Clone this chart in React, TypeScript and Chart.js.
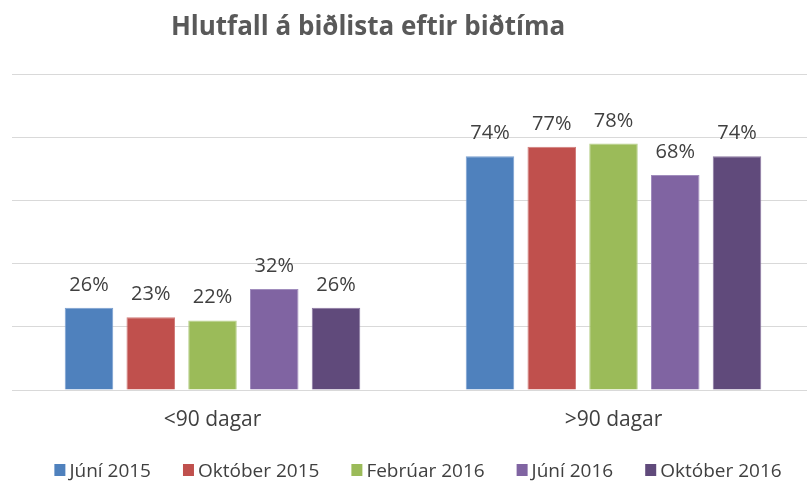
import React, { useEffect, useRef } from "react";
import { Chart, registerables } from "chart.js";

Chart.register(...registerables);

const TITLE = "Hlutfall á biðlista eftir biðtíma";
const categories = ["<90 dagar", ">90 dagar"];
const seriesNames = ["Júní 2015", "Október 2015", "Febrúar 2016", "Júní 2016", "Október 2016"];
const junI2015 = [26, 74];
const okt2015 = [23, 77];
const feb2016 = [22, 78];
const juni2016 = [32, 68];
const okt2016 = [26, 74];
const seriesValues = [junI2015, okt2015, feb2016, juni2016, okt2016];
const colors = ["#4F81BD", "#C0504D", "#9BBB59", "#8064A2", "#604A7B"];
const borderColors = ["#7a9fd0", "#d17d7b", "#b6d08a", "#a18dbd", "#8a77a0"];
const yTicks = [0, 20, 40, 60, 80, 100];

const FONT = "'Open Sans', 'Noto Sans', sans-serif";
const TEXT = "#404040";

const customPlugin = {
  id: "custom",
  afterDatasetsDraw(chart: any) {
    const ctx = chart.ctx;
    ctx.save();
    ctx.fillStyle = TEXT;
    ctx.font = `20px ${FONT}`;
    ctx.textAlign = "center";
    ctx.textBaseline = "alphabetic";
    chart.data.datasets.forEach((ds: any, i: number) => {
      const meta = chart.getDatasetMeta(i);
      meta.data.forEach((bar: any, j: number) => {
        ctx.fillText(ds.data[j] + "%", bar.x, bar.y - 17);
      });
    });
    // category labels
    const xs = chart.scales.x;
    ctx.font = `21px ${FONT}`;
    categories.forEach((c, j) => {
      ctx.fillText(c, xs.getPixelForValue(j), 426);
    });
    // title
    ctx.fillStyle = "#595959";
    ctx.font = `bold 26px ${FONT}`;
    ctx.fillText(TITLE, 368, 35);
    // legend
    ctx.font = `19px ${FONT}`;
    ctx.textAlign = "left";
    const box = 11;
    const gapBox = 4;
    const gapItem = 32;
    const widths = seriesNames.map((n) => ctx.measureText(n).width);
    const total = widths.reduce((a, w) => a + box + gapBox + w, 0) + gapItem * (seriesNames.length - 1);
    let x = 418 - total / 2;
    const y = 477;
    seriesNames.forEach((n, i) => {
      ctx.fillStyle = colors[i];
      ctx.fillRect(x, y - 13, box, box + 1);
      x += box + gapBox;
      ctx.fillStyle = TEXT;
      ctx.fillText(n, x, y);
      x += widths[i] + gapItem;
    });
    ctx.restore();
  },
};

export default function App() {
  const ref = useRef<HTMLCanvasElement>(null);
  useEffect(() => {
    const chart = new Chart(ref.current!, {
      type: "bar",
      data: {
        labels: categories,
        datasets: seriesNames.map((n, i) => ({
          label: n,
          data: seriesValues[i],
          backgroundColor: colors[i],
          borderColor: borderColors[i],
          borderWidth: 1,
          categoryPercentage: 0.77,
          barPercentage: 0.786,
        })),
      },
      options: {
        animation: false,
        responsive: false,
        maintainAspectRatio: false,
        layout: { padding: { left: 12, right: 0, top: 74, bottom: 93 } },
        plugins: { legend: { display: false }, title: { display: false }, tooltip: { enabled: false } },
        scales: {
          x: { display: false },
          y: {
            min: 0,
            max: 100,
            afterBuildTicks: (s: any) => {
              s.ticks = yTicks.map((v) => ({ value: v }));
            },
            ticks: { display: false },
            border: { display: false },
            grid: { color: "#d9d9d9", lineWidth: 1, drawTicks: false },
          },
        },
      },
      plugins: [customPlugin],
    });
    return () => chart.destroy();
  }, []);
  return (
    <div style={{ position: "fixed", left: 0, top: 0, width: 807, height: 483, overflow: "hidden", background: "#fff" }}>
      <canvas ref={ref} width={814} height={483} style={{ display: "block", width: 814, height: 483 }} />
    </div>
  );
}
